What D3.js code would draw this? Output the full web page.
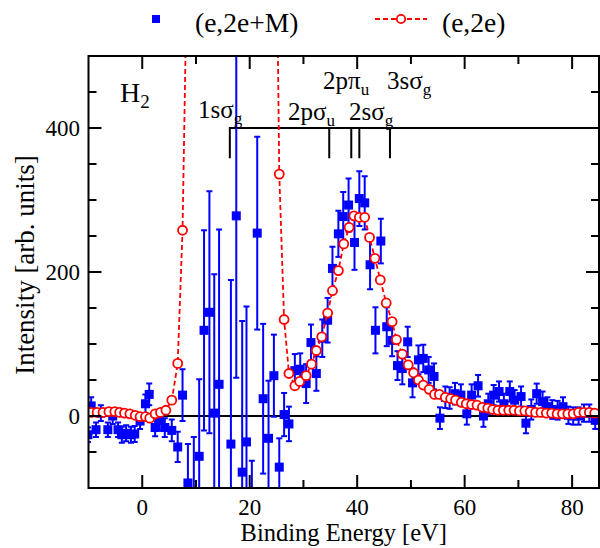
<!DOCTYPE html>
<html><head><meta charset="utf-8">
<script src="https://cdn.jsdelivr.net/npm/d3@7"></script>
<style>body{margin:0;background:#fff}svg{display:block}</style>
</head><body><svg id="c" width="600" height="548"></svg>
<script>
// (e,2e+M) series
const blueE = [-10.1,-9.5,-8.6,-7.7,-6.4,-5.5,-4.5,-3.8,-3.0,-2.1,-1.4,-0.4,0.6,1.3,2.4,3.2,4.2,5.5,6.6,7.5,8.5,9.6,10.6,11.5,12.5,13.4,14.3,16.5,17.5,18.6,19.4,20.4,21.4,22.5,23.5,24.5,25.5,26.4,27.3,28.4,29.4,30.5,31.4,32.4,33.5,34.5,35.4,36.5,37.4,38.4,39.5,40.4,41.4,42.4,43.4,44.4,45.5,46.5,47.5,48.4,49.4,50.3,51.4,52.3,53.3,54.3,55.4,56.4,57.2,58.2,59.3,60.4,61.3,62.5,63.5,64.4,65.4,66.4,67.3,68.4,69.3,70.5,71.4,72.4,73.4,74.5,75.4,76.3,77.3,78.3,79.3,80.2,81.2,82.2,83.2,84.3];
const blueV = [-26,14,-19,4,-19,0,-19,-26,-24,-26,-25,-7,17,30,-16,-6,-16,-20,-43,29,-93,-140,-56,119,144,4,44,-39,278,-78,-36,-170,254,24,-31,56,-71,2,-11,63,65,45,102,59,108,133,205,253,277,293,241,302,296,210,119,243,124,105,70,66,103,46,78,80,64,55,-3,26,25,31,29,3,29,42,0,17,29,34,17,34,22,27,-10,9,31,20,13,9,8,13,1,0,0,4,4,-6];
const blueErr = [10,12,10,11,10,11,10,11,11,11,11,11,13,15,12,14,13,15,21,36,54,111,107,139,168,193,215,228,225,210,188,108,134,104,80,57,40,30,24,23,22,27,25,24,26,31,30,32,34,37,38,38,37,34,32,31,27,22,20,22,21,20,20,19,18,18,15,15,15,15,15,15,15,15,15,14,14,14,14,14,14,14,14,14,14,14,13,13,13,13,12,12,12,12,12,12];
// (e,2e) series
const redE = [-9.5,-8.4,-7.3,-6.2,-5.1,-4.2,-3.3,-2.3,-1.3,-0.4,0.6,1.4,2.4,3.4,4.4,5.5,6.6,7.5,8.5,9.5,10.5,11.5,12.5,13.5,14.5,15.5,16.5,17.5,18.5,19.5,20.5,21.5,22.5,23.5,24.5,25.5,26.4,27.3,28.4,29.3,30.5,31.5,32.4,33.4,34.5,35.4,36.5,37.5,38.5,39.4,40.4,41.4,42.3,43.3,44.3,45.4,46.5,47.3,48.4,49.5,50.5,51.4,52.3,53.4,54.4,55.3,56.4,57.4,58.3,59.4,60.3,61.3,62.3,63.3,64.3,65.2,66.2,67.2,68.2,69.2,70.2,71.2,72.2,73.2,74.2,75.2,76.2,77.2,78.2,79.2,80.2,81.2,82.2,83.2,84.2];
const redV = [5,5,5,6,6,5,4,3,1,-1,-1,-3,3,5,8,22,73,258,700,1500,2500,3500,4300,4800,5000,4900,4500,3900,3200,2600,2100,1700,1400,1200,1000,336,134,59,42,48,56,72,91,110,143,174,202,239,262,278,276,276,248,219,189,157,131,106,86,71,60,50,43,37,30,30,26,24,22,19,17,16,15,12,11,9,8,8,8,8,7,7,6,5,5,4,4,3,3,3,3,5,5,5,4];
// axes ticks
const xMajor = [0,20,40,60,80];
const xMinor = [10,30,50,70];
const yMajor = [0,200,400];
const yMinor = [-50,50,100,150,250,300,350,450];
// orbital markers
const orbE = [16.3,34.8,38.9,40.4,46.1];
const orbLabels = [["1sσ","g"],["2pσ","u"],["2pπ","u"],["2sσ","g"],["3sσ","g"]];
const orbLabelX = [198,288,323,349,387];
const orbLabelY = [118,120,89,120,89];

const font = "'Liberation Serif','Times New Roman',serif";
const svg = d3.select("#c");
const x = d3.scaleLinear().domain([-10,85]).range([88.5,599]);
const y = d3.scaleLinear().domain([-100,500]).range([488,56]);
const [x0,x1] = x.range(), [yb,yt] = y.range();

svg.append("defs").append("clipPath").attr("id","clip").append("rect")
  .attr("x",x0).attr("y",yt).attr("width",x1-x0).attr("height",yb-yt);

const plot = svg.append("g").attr("clip-path","url(#clip)");

// zero line
plot.append("line").attr("x1",x0).attr("x2",x1).attr("y1",y(0)).attr("y2",y(0))
  .attr("stroke","#000").attr("stroke-width",2);

// orbital bracket
plot.append("line").attr("x1",x(orbE[0])).attr("x2",x1).attr("y1",y(400)).attr("y2",y(400))
  .attr("stroke","#000").attr("stroke-width",2);
plot.selectAll(".orb").data(orbE).join("line")
  .attr("x1",d=>x(d)).attr("x2",d=>x(d)).attr("y1",y(400)-1).attr("y2",y(358))
  .attr("stroke","#000").attr("stroke-width",2);

// blue error bars and squares
const blue = blueE.map((e,i)=>({e,v:blueV[i],s:blueErr[i]}));
const bg = plot.append("g").attr("stroke","#0000ff").attr("stroke-width",2);
blue.forEach(d=>{
  const cx = x(d.e);
  bg.append("line").attr("x1",cx).attr("x2",cx).attr("y1",y(d.v+d.s)).attr("y2",y(d.v-d.s));
  bg.append("line").attr("x1",cx-3).attr("x2",cx+3).attr("y1",y(d.v+d.s)).attr("y2",y(d.v+d.s));
  bg.append("line").attr("x1",cx-3).attr("x2",cx+3).attr("y1",y(d.v-d.s)).attr("y2",y(d.v-d.s));
});
plot.selectAll(".sq").data(blue).join("rect")
  .attr("x",d=>x(d.e)-4.5).attr("y",d=>y(d.v)-4.5).attr("width",9).attr("height",9)
  .attr("fill","#0000ff");

// red dashed line + circles
const red = redE.map((e,i)=>({e,v:redV[i]}));
plot.append("path").datum(red)
  .attr("d",d3.line().x(d=>x(d.e)).y(d=>y(d.v)))
  .attr("fill","none").attr("stroke","#ff0000").attr("stroke-width",1.8)
  .attr("stroke-dasharray","5,3");
plot.selectAll(".ci").data(red).join("circle")
  .attr("cx",d=>x(d.e)).attr("cy",d=>y(d.v)).attr("r",4.5)
  .attr("fill","#fff").attr("stroke","#ff0000").attr("stroke-width",1.8);

// frame
svg.append("rect").attr("x",x0).attr("y",yt).attr("width",x1-x0).attr("height",yb-yt)
  .attr("fill","none").attr("stroke","#000").attr("stroke-width",2);

// ticks (inward, all sides)
const tk = svg.append("g").attr("stroke","#000").attr("stroke-width",2);
function xt(vals,len){
  vals.forEach(v=>{
    tk.append("line").attr("x1",x(v)).attr("x2",x(v)).attr("y1",yb).attr("y2",yb-len);
    tk.append("line").attr("x1",x(v)).attr("x2",x(v)).attr("y1",yt).attr("y2",yt+len);
  });
}
function yt_(vals,len){
  vals.forEach(v=>{
    tk.append("line").attr("y1",y(v)).attr("y2",y(v)).attr("x1",x0).attr("x2",x0+len);
    tk.append("line").attr("y1",y(v)).attr("y2",y(v)).attr("x1",x1).attr("x2",x1-len);
  });
}
xt(xMajor,13); xt(xMinor,8); yt_(yMajor,13); yt_(yMinor,8);

// tick labels
svg.selectAll(".xl").data(xMajor).join("text")
  .attr("x",d=>x(d)).attr("y",515).attr("text-anchor","middle")
  .attr("font-family",font).attr("font-size",23).text(d=>d);
svg.selectAll(".yl").data(yMajor).join("text")
  .attr("x",80).attr("y",d=>y(d)).attr("dy","0.35em").attr("text-anchor","end")
  .attr("font-family",font).attr("font-size",23).text(d=>d);

// axis titles
svg.append("text").attr("x",(x0+x1)/2).attr("y",541).attr("text-anchor","middle")
  .attr("font-family",font).attr("font-size",24.5).text("Binding Energy [eV]");
svg.append("text").attr("transform","translate(34,265) rotate(-90)").attr("text-anchor","middle")
  .attr("font-family",font).attr("font-size",27).text("Intensity [arb. units]");

// H2 label
const h = svg.append("text").attr("x",120).attr("y",102).attr("font-family",font).attr("font-size",28);
h.append("tspan").text("H");
h.append("tspan").attr("font-size",19).attr("dy",6).text("2");

// orbital labels
orbLabels.forEach((l,i)=>{
  const t = svg.append("text").attr("x",orbLabelX[i]).attr("y",orbLabelY[i])
    .attr("font-family",font).attr("font-size",25);
  t.append("tspan").text(l[0]);
  t.append("tspan").attr("font-size",17).attr("dy",6).text(l[1]);
});

// legend
svg.append("rect").attr("x",152).attr("y",15).attr("width",8).attr("height",8).attr("fill","#0000ff");
svg.append("text").attr("x",195).attr("y",32).attr("font-family",font).attr("font-size",27.5).text("(e,2e+M)");
svg.append("line").attr("x1",375).attr("x2",427).attr("y1",19).attr("y2",19)
  .attr("stroke","#ff0000").attr("stroke-width",1.8).attr("stroke-dasharray","5,3");
svg.append("circle").attr("cx",401).attr("cy",19).attr("r",4.2)
  .attr("fill","#fff").attr("stroke","#ff0000").attr("stroke-width",1.8);
svg.append("text").attr("x",442).attr("y",32).attr("font-family",font).attr("font-size",27.5).text("(e,2e)");
</script></body></html>
